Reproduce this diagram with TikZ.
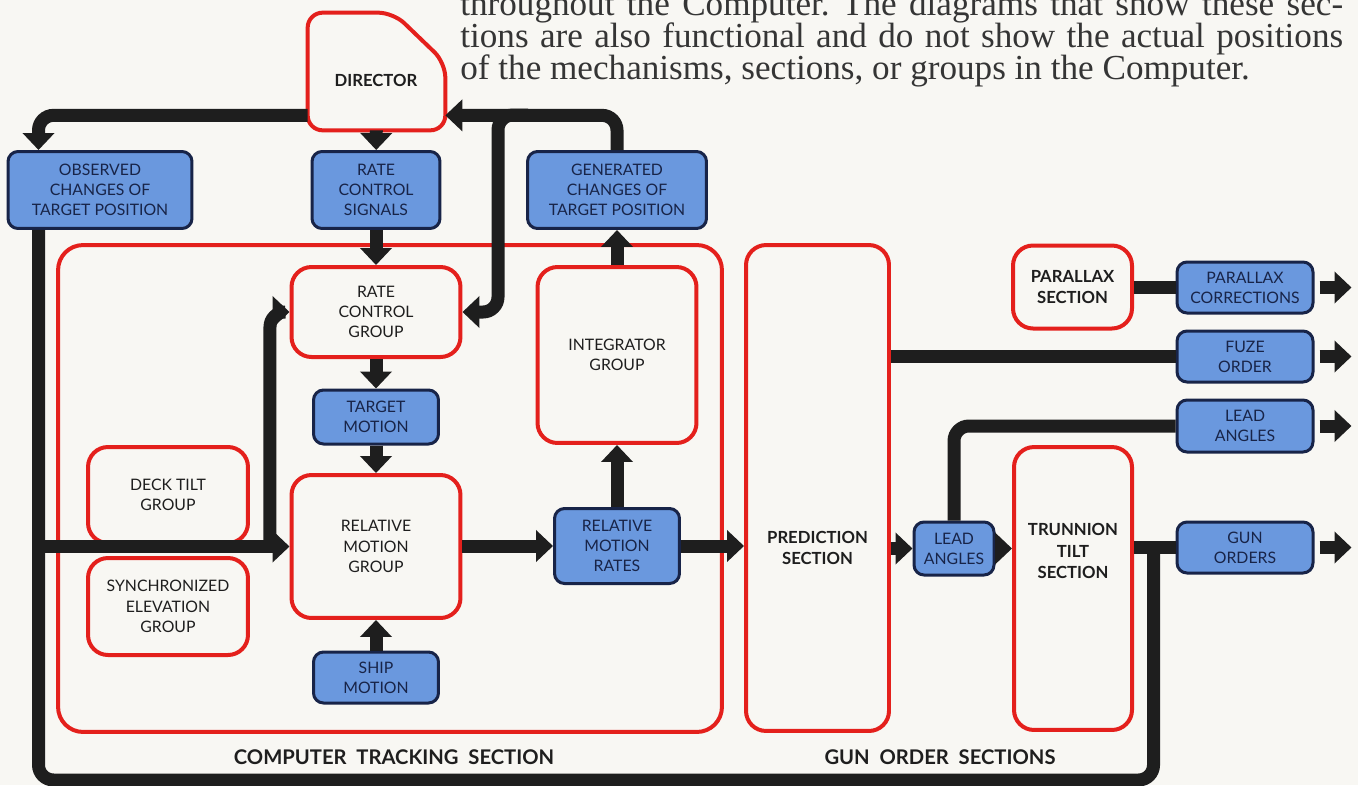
\documentclass[tikz,border=0pt]{standalone}
\usepackage{fontspec}
\setmainfont{Liberation Serif}
\newfontfamily\labelfamily{Lato}
\usetikzlibrary{ arrows.meta, % For the big triangle tips
                 calc,        % For shifted join points
               }
\definecolor{paper}{RGB}{248,247,243}
\definecolor{boxblue}{RGB}{106,152,222}
\definecolor{navy}{RGB}{24,36,72}
\definecolor{redline}{RGB}{228,32,28}
\definecolor{ink}{RGB}{30,30,30}
\newcommand{\lblfont}{\labelfamily\fontsize{9}{11.5}\selectfont}
\tikzstyle{pipe} = [line width=0.26cm, draw=ink]
\tikzstyle{flow} = [pipe, -{Triangle[length=0.34cm, width=0.62cm]}]
\tikzstyle{bluebox} = [rectangle, rounded corners=0.2cm, draw=navy, line width=0.06cm, fill=boxblue, text=navy, align=center, font=\lblfont, inner sep=0pt]
\tikzstyle{redbox} = [rectangle, rounded corners=0.4cm, draw=redline, line width=0.08cm, fill=paper, text=ink, align=center, font=\lblfont, inner sep=0pt]
\tikzstyle{boldlbl} = [text=ink, align=center, inner sep=0pt, font=\labelfamily\bfseries\fontsize{9.5}{12}\selectfont]
\tikzstyle{title} = [text=ink, inner sep=0pt, font=\labelfamily\bfseries\fontsize{11.5}{14}\selectfont]
\tikzstyle{prose} = [anchor=base west, inner sep=0pt, text=ink!90, font=\fontsize{20}{24}\selectfont\frenchspacing]

\begin{document}
\begin{tikzpicture}[x=0.02cm, y=-0.02cm]
  \clip (0,0) rectangle (1358,785);
  \fill[paper] (0,0) rectangle (1358,785);

  % running text of the page
  \node (para1) [prose] at (460,15) {\makebox[17.66cm][s]{throughout the Computer. The diagrams that show these sec-}};
  \node (para2) [prose] at (460,47) {\makebox[17.66cm][s]{tions are also functional and do not show the actual positions}};
  \node (para3) [prose] at (460,79) {of the mechanisms, sections, or groups in the Computer.};

  % computer tracking section
  \node (cts) [redbox, rounded corners=0.5cm, minimum width=13.28cm, minimum height=9.74cm] at (390,488.5) {};

  % director
  \node (director) [minimum width=2.74cm, minimum height=2.34cm] at (376.5,71.5) {};
  \draw[redline, line width=0.08cm, rounded corners=0.3cm, fill=paper]
    (director.south west) -- (director.north west) -- ($(director.north east)+(-52,0)$)
    -- ($(director.north east)+(0,50)$) -- (director.south east) -- cycle;
  \node (directortxt) [boldlbl] at (376,80) {DIRECTOR};

  \node (obs) [bluebox, minimum width=3.68cm, minimum height=1.54cm] at (100,190) {OBSERVED\\CHANGES OF\\TARGET POSITION};
  \node (rcs) [bluebox, minimum width=2.56cm, minimum height=1.54cm] at (376,190) {RATE\\CONTROL\\SIGNALS};
  \node (gctp) [bluebox, minimum width=3.58cm, minimum height=1.54cm] at (617,190) {GENERATED\\CHANGES OF\\TARGET POSITION};

  \node (rcg) [redbox, minimum width=3.38cm, minimum height=1.8cm] at (376,312) {RATE\\CONTROL\\GROUP};
  \node (tm) [bluebox, minimum width=2.5cm, minimum height=1.08cm] at (376,417) {TARGET\\MOTION};
  \node (rmg) [redbox, minimum width=3.38cm, minimum height=2.86cm] at (376,546.5) {RELATIVE\\MOTION\\GROUP};
  \node (sm) [bluebox, minimum width=2.5cm, minimum height=1.02cm] at (376,677.5) {SHIP\\MOTION};
  \node (dtg) [redbox, minimum width=3.2cm, minimum height=1.92cm] at (168,495) {DECK TILT\\GROUP};
  \node (seg) [redbox, minimum width=3.2cm, minimum height=1.94cm] at (168,606.5) {SYNCHRONIZED\\ELEVATION\\GROUP};
  \node (ig) [redbox, minimum width=3.18cm, minimum height=3.52cm] at (617,355) {INTEGRATOR\\GROUP};
  \node (rmr) [bluebox, minimum width=2.5cm, minimum height=1.5cm] at (617,546) {RELATIVE\\MOTION\\RATES};

  % gun order sections
  \node (ps) [redbox, minimum width=2.86cm, minimum height=9.72cm] at (817.5,488) {};
  \node (pstxt) [boldlbl] at (817.5,548) {PREDICTION\\SECTION};
  \node (la1) [bluebox, minimum width=1.6cm, minimum height=1.06cm] at (954,548.5) {LEAD\\ANGLES};
  \node (tts) [redbox, minimum width=2.36cm, minimum height=5.66cm] at (1073,588.5) {};
  \node (ttstxt) [boldlbl] at (1073,551) {TRUNNION\\TILT\\SECTION};
  \node (pars) [redbox, minimum width=2.38cm, minimum height=1.66cm, font=\labelfamily\bfseries\fontsize{9.5}{12}\selectfont] at (1072.5,287) {PARALLAX\\SECTION};

  \node (pc) [bluebox, minimum width=2.72cm, minimum height=1.02cm] at (1245,287.5) {PARALLAX\\CORRECTIONS};
  \node (fo) [bluebox, minimum width=2.72cm, minimum height=1.02cm] at (1245,356.5) {FUZE\\ORDER};
  \node (la2) [bluebox, minimum width=2.72cm, minimum height=1.04cm] at (1245,426) {LEAD\\ANGLES};
  \node (go) [bluebox, minimum width=2.72cm, minimum height=1.02cm] at (1245,547.5) {GUN\\ORDERS};

  \node (ctstxt) [title] at (394,757) {COMPUTER~~TRACKING~~SECTION};
  \node (gostxt) [title] at (940,757) {GUN~~ORDER~~SECTIONS};

  % join points
  \coordinate (obsdown) at ($(obs.south west)+(32,0)$);
  \coordinate (obsup) at ($(obs.north west)+(32,0)$);
  \coordinate (dirleft) at ($(director.south west)+(0,-15)$);
  \coordinate (dirright) at ($(director.south east)+(0,-15)$);
  \coordinate (fbsplit) at (498,115);
  \coordinate (tiltup) at ($(dtg.east |- rmg.west)+(20,0)$);
  \coordinate (gojoin) at ($(go.west)+(-22,0)$);

  % connectors
  \draw[flow, rounded corners=0.3cm] (dirleft) -| (obsup);
  \draw[flow] (director) -- (rcs);
  \draw[flow] (rcs) -- (rcg);
  \draw[flow] (rcg) -- (tm);
  \draw[flow] (tm) -- (rmg);
  \draw[flow] (sm) -- (rmg);
  \draw[flow] (rmg.east |- rmr.west) -- (rmr.west);
  \draw[flow] (rmr) -- (ig);
  \draw[flow] (ig) -- (gctp);
  \draw[flow, rounded corners=0.3cm] (gctp.north) |- (dirright);
  \draw[flow, rounded corners=0.3cm] ($(fbsplit)+(30,0)$) -- (fbsplit) |- (rcg.east);
  \draw[pipe, rounded corners=0.3cm] (obsdown) -- ++(0,550) -| (gojoin);
  \draw[flow] (obsdown |- rmg.west) -- (rmg.west);
  \draw[flow, rounded corners=0.3cm] (tiltup) |- (rcg.west);
  \draw[flow] (rmr.east) -- (rmr.east -| ps.west);
  \draw[pipe] (ps.east |- fo) -- (fo.west);
  \draw[flow] (ps.east |- la1) -- (la1.west);
  \draw[flow] (la1.east) -- (la1.east -| tts.west);
  \draw[pipe, rounded corners=0.3cm] (la1.north) |- (la2.west);
  \draw[pipe] (pars.east |- pc) -- (pc.west);
  \draw[pipe] (tts.east |- go.west) -- (go.west);
  \foreach \n in {pc,fo,la2,go}{
    \coordinate (\n-out) at ($(\n.east)+(37,0)$);
    \draw[flow] ($(\n.east)+(5,0)$) -- (\n-out);
  }
\end{tikzpicture}
\end{document}
